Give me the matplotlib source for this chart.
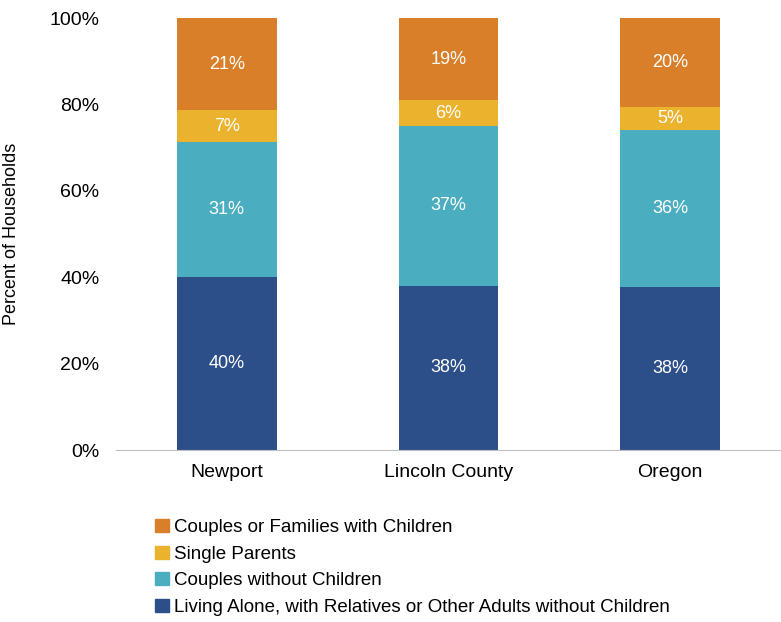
import matplotlib.pyplot as plt
from matplotlib.patches import Patch

plt.rcParams['font.family'] = ['Liberation Sans', 'DejaVu Sans']

places = ['Newport', 'Lincoln County', 'Oregon']
alone = [40.0, 38.0, 37.7]
couples_no_kids = [31.4, 37.0, 36.4]
single_parents = [7.2, 6.0, 5.4]
families_kids = [21.3, 19.0, 20.4]

series = [
    ('Living Alone, with Relatives or Other Adults without Children', alone, '#2c4f8a'),
    ('Couples without Children', couples_no_kids, '#4badc0'),
    ('Single Parents', single_parents, '#ebb22e'),
    ('Couples or Families with Children', families_kids, '#d97f2a'),
]

fig = plt.figure(figsize=(7.81, 6.22), dpi=100)
ax = fig.add_axes([0.1485, 0.2765, 0.8515, 0.6945])

x = range(len(places))
bottom = [0.0] * len(places)
for name, vals, col in series:
    ax.bar(x, vals, width=0.45, bottom=bottom, color=col, label=name)
    for i, v in enumerate(vals):
        ax.text(i, bottom[i] + v / 2, f'{round(v):.0f}%', ha='center', va='center',
                color='white', fontsize=13)
    bottom = [b + v for b, v in zip(bottom, vals)]

ax.set_xlim(-0.5, 2.5)
ax.set_ylim(0, 100)
ax.set_yticks(range(0, 101, 20))
ax.set_yticklabels([f'{t}%' for t in range(0, 101, 20)], fontsize=14)
ax.set_xticks(list(x))
ax.set_xticklabels(places, fontsize=14)
ax.set_ylabel('Percent of Households', fontsize=13)
ax.yaxis.set_label_coords(-0.145, 0.5)
for s in ['top', 'right', 'left']:
    ax.spines[s].set_visible(False)
ax.spines['bottom'].set_color('#bfbfbf')
ax.tick_params(axis='y', length=0, pad=12)
ax.tick_params(axis='x', length=0, pad=10)

handles = [Patch(color=col, label=name) for name, vals, col in reversed(series)]
fig.legend(handles=handles, loc='upper left', bbox_to_anchor=(0.199, 0.165),
           frameon=False, fontsize=13.5, handlelength=0.7, handleheight=0.7,
           handletextpad=0.3, labelspacing=0.5, borderaxespad=0, borderpad=0)

fig.savefig('out.png', dpi=100)
